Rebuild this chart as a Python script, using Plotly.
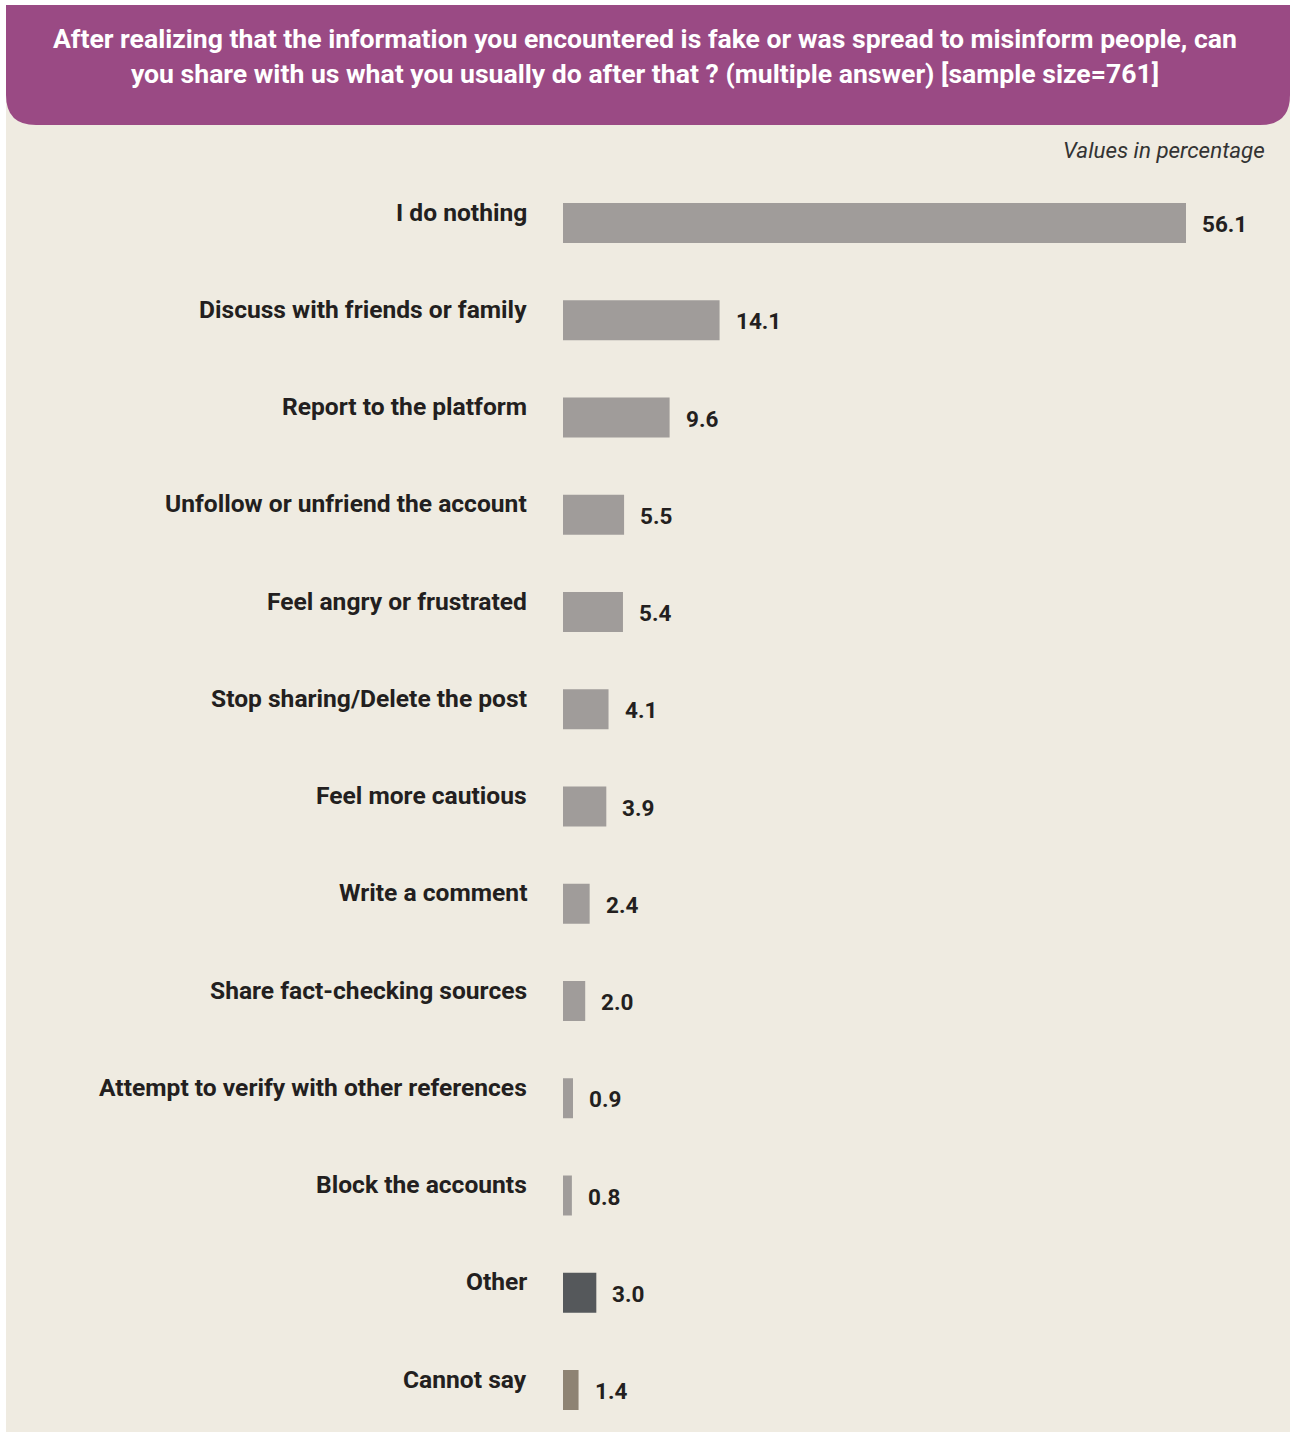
import plotly.graph_objects as go

# Survey responses (multiple answer), values in percent
categories = [
    "I do nothing",
    "Discuss with friends or family",
    "Report to the platform",
    "Unfollow or unfriend the account",
    "Feel angry or frustrated",
    "Stop sharing/Delete the post",
    "Feel more cautious",
    "Write a comment",
    "Share fact-checking sources",
    "Attempt to verify with other references",
    "Block the accounts",
    "Other",
    "Cannot say",
]
values = [56.1, 14.1, 9.6, 5.5, 5.4, 4.1, 3.9, 2.4, 2.0, 0.9, 0.8, 3.0, 1.4]
bar_colors = ["#A09C9A"] * 11 + ["#55585B", "#8E8373"]

title_text = ("After realizing that the information you encountered is fake or was spread to misinform people, can"
              "<br>you share with us what you usually do after that ? (multiple answer) [sample size=761]")
note_text = "Values in percentage"

W, H = 1290, 1432
FONT = "Roboto"
TEXT = "#231F20"

# pixel layout of the bar region
x0_px = 563
px_per_unit = 623 / 56.1
first_center = 223
row_step = 97.25
bar_px = 40

positions = list(range(len(categories)))

fig = go.Figure()
fig.add_trace(go.Bar(
    x=values,
    y=positions,
    orientation="h",
    marker=dict(color=bar_colors, line=dict(width=0)),
    width=bar_px / row_step,
    hoverinfo="skip",
))

annotations = []
for i, (cat, v) in enumerate(zip(categories, values)):
    annotations.append(dict(
        x=0, y=i, xref="x", yref="y", text=f"<b>{cat}</b>", showarrow=False,
        xanchor="right", yanchor="middle", xshift=-34, yshift=11,
        font=dict(family=FONT, size=24.6, color=TEXT),
    ))
    annotations.append(dict(
        x=v, y=i, xref="x", yref="y", text=f"<b>{v:.1f}</b>", showarrow=False,
        xanchor="left", yanchor="middle", xshift=14, yshift=-1,
        font=dict(family=FONT, size=22.5, color=TEXT),
    ))

annotations.append(dict(
    x=0.5, y=1 - 56 / H, xref="paper", yref="paper", text=f"<b>{title_text}</b>",
    showarrow=False, xanchor="center", yanchor="middle", align="center",
    font=dict(family=FONT, size=26.6, color="#FFFFFF"),
))
annotations.append(dict(
    x=1267 / W, y=1 - 150 / H, xref="paper", yref="paper", text=f"<i>{note_text}</i>",
    showarrow=False, xanchor="right", yanchor="middle",
    font=dict(family=FONT, size=22.4, color="#333333"),
))

# header band with rounded lower corners
L, R = 6 / W, 1.0
T, B = 1 - 5 / H, 1 - 125 / H
rx, ry = 30 / W, 30 / H
header_path = (f"M {L},{T} L {R},{T} L {R},{B + ry} Q {R},{B} {R - rx},{B} "
               f"L {L + rx},{B} Q {L},{B} {L},{B + ry} Z")

shapes = [
    dict(type="rect", xref="paper", yref="paper", x0=L, x1=1, y0=0, y1=T,
         fillcolor="#EFEBE1", line=dict(width=0), layer="below"),
    dict(type="path", xref="paper", yref="paper", path=header_path,
         fillcolor="#9A4A84", line=dict(width=0), layer="below"),
]

x_range_max = (W - x0_px) / px_per_unit
y_top = -first_center / row_step
y_bot = (H - first_center) / row_step

fig.update_layout(
    width=W, height=H,
    margin=dict(l=0, r=0, t=0, b=0, pad=0),
    paper_bgcolor="#FFFFFF",
    plot_bgcolor="rgba(0,0,0,0)",
    showlegend=False,
    xaxis=dict(domain=[x0_px / W, 1], range=[0, x_range_max], visible=False, fixedrange=True),
    yaxis=dict(domain=[0, 1], range=[y_bot, y_top], visible=False, fixedrange=True),
    annotations=annotations,
    shapes=shapes,
)

fig.write_html("out.html")
